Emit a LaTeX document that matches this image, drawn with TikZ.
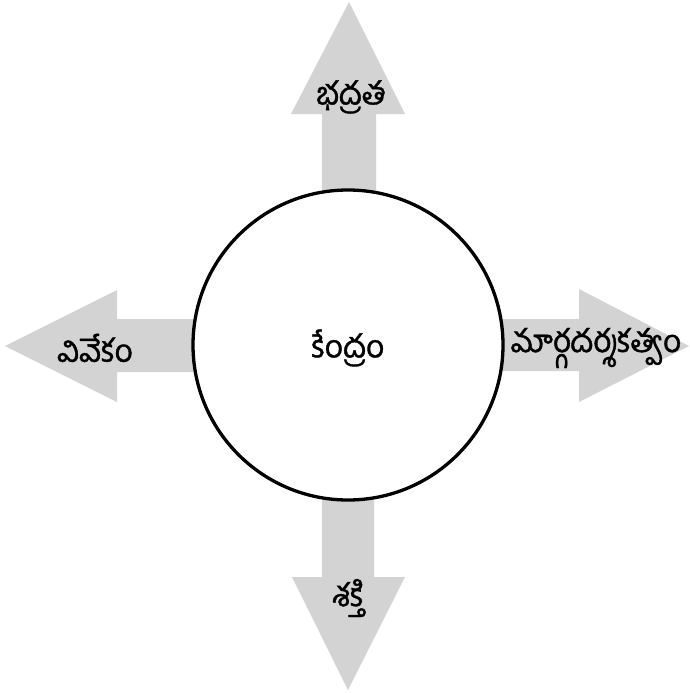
\documentclass[tikz,border=0pt]{standalone}
\usepackage{fontspec}
\newfontfamily\telugu[Script=Telugu,FakeBold=1.2]{Hind Guntur}
\begin{document}
\begin{tikzpicture}[x=1pt,y=-1pt,
  arrowfill/.style={fill={rgb,255:red,211;green,211;blue,211},draw=none},
  lbl/.style={font=\telugu\fontsize{31.5}{35}\selectfont,inner sep=0pt}]
\useasboundingbox (0,0) rectangle (689,693);
% up arrow
\fill[arrowfill] (322,345) -- (322,114) -- (291,114) -- (349,2) -- (405,114) -- (376,114) -- (376,345) -- cycle;
% down arrow
\fill[arrowfill] (322,345) -- (322,577) -- (292,577) -- (348,690) -- (405,577) -- (374,577) -- (374,345) -- cycle;
% left arrow
\fill[arrowfill] (348,319) -- (117,319) -- (117,290) -- (5,346) -- (117,402) -- (117,372) -- (348,372) -- cycle;
% right arrow
\fill[arrowfill] (348,319) -- (579,319) -- (579,289) -- (689,346) -- (579,402) -- (579,371) -- (348,371) -- cycle;
% circle
\node[circle,draw=black,line width=3.3pt,fill=white,minimum size=310pt,inner sep=0pt] (c) at (348,345) {};
\node[lbl] (k) at (348,348) {కేంద్రం};
\node[lbl] (t) at (351,97) {భద్రత};
\node[lbl] (l) at (95,348) {వివేకం};
\node[lbl] (r) at (596,348) {మార్గదర్శకత్వం};
\node[lbl] (b) at (348,598) {శక్తి};
\end{tikzpicture}
\end{document}
